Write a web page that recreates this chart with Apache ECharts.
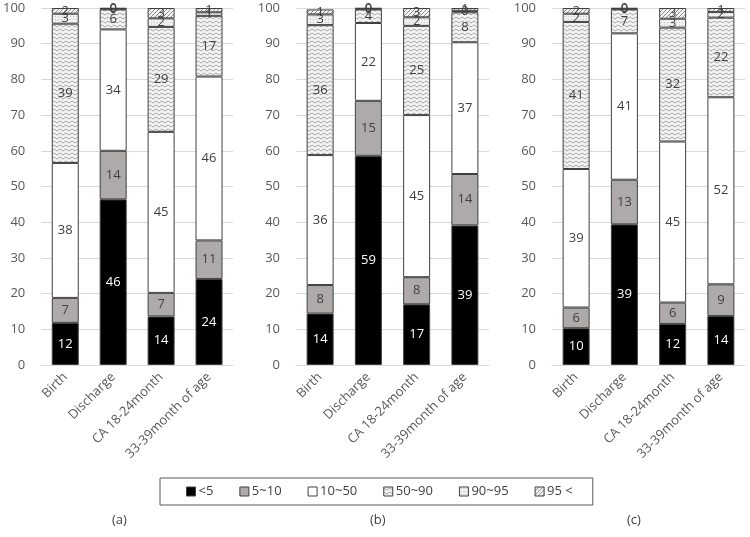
<!DOCTYPE html>
<html><head><meta charset="utf-8">
<script src="https://cdn.jsdelivr.net/npm/echarts@6/dist/echarts.min.js"></script>
<style>html,body{margin:0;padding:0;background:#fff}#c{width:750px;height:537px}</style>
</head><body><div id="c"></div>
<script>
const categories = ['Birth', 'Discharge', 'CA 18-24month', '33-39month of age'];
const classNames = ['<5', '5~10', '10~50', '50~90', '90~95', '95 <'];
const panelLabels = ['(a)', '(b)', '(c)'];
const yTicks = [0, 10, 20, 30, 40, 50, 60, 70, 80, 90, 100];

// panel (a)
const a_lt5   = [11.8, 46.4, 13.6, 24.1];
const a_5_10  = [7.0, 13.6, 6.6, 10.8];
const a_10_50 = [37.8, 34.0, 45.1, 45.9];
const a_50_90 = [39.0, 5.6, 29.4, 17.0];
const a_90_95 = [2.8, 0.2, 2.4, 1.0];
const a_95    = [1.6, 0.2, 2.9, 1.2];
// panel (b)
const b_lt5   = [14.4, 58.6, 17.0, 39.1];
const b_5_10  = [8.0, 15.4, 7.6, 14.4];
const b_10_50 = [36.4, 21.8, 45.4, 36.9];
const b_50_90 = [36.4, 3.8, 25.0, 8.4];
const b_90_95 = [3.0, 0.2, 2.4, 0.4];
const b_95    = [1.4, 0.2, 2.6, 0.8];
// panel (c)
const c_lt5   = [10.3, 39.4, 11.5, 13.7];
const c_5_10  = [5.8, 12.5, 6.0, 8.9];
const c_10_50 = [38.8, 41.0, 45.1, 52.4];
const c_50_90 = [41.2, 6.7, 31.9, 22.3];
const c_90_95 = [2.3, 0.2, 2.5, 1.6];
const c_95    = [1.6, 0.2, 3.0, 1.1];

const panels = [
  [a_lt5, a_5_10, a_10_50, a_50_90, a_90_95, a_95],
  [b_lt5, b_5_10, b_10_50, b_50_90, b_90_95, b_95],
  [c_lt5, c_5_10, c_10_50, c_50_90, c_90_95, c_95]
];

function pat(w, h, draw) {
  const cv = document.createElement('canvas');
  cv.width = w; cv.height = h;
  const ctx = cv.getContext('2d');
  draw(ctx);
  return { image: cv, repeat: 'repeat' };
}
const zigzag = pat(6, 4, ctx => {
  ctx.fillStyle = '#f4f4f4'; ctx.fillRect(0, 0, 6, 4);
  ctx.strokeStyle = '#a8a8a8'; ctx.lineWidth = 1;
  ctx.beginPath(); ctx.moveTo(0, 1); ctx.lineTo(3, 3); ctx.lineTo(6, 1); ctx.stroke();
});
const dots = pat(3, 3, ctx => {
  ctx.fillStyle = '#f0f0f0'; ctx.fillRect(0, 0, 3, 3);
  ctx.fillStyle = '#c8c8c8'; ctx.fillRect(1, 1, 1, 1);
});
const hatch = pat(4, 4, ctx => {
  ctx.fillStyle = '#f2f2f2'; ctx.fillRect(0, 0, 4, 4);
  ctx.strokeStyle = '#8c8c8c'; ctx.lineWidth = 1;
  ctx.beginPath(); ctx.moveTo(0, 4); ctx.lineTo(4, 0); ctx.stroke();
  ctx.beginPath(); ctx.moveTo(-1, 1); ctx.lineTo(1, -1); ctx.stroke();
  ctx.beginPath(); ctx.moveTo(3, 5); ctx.lineTo(5, 3); ctx.stroke();
});
const fills = ['#000000', '#aeaaaa', '#ffffff', zigzag, dots, hatch];
const labelColors = ['#ffffff', '#404040', '#404040', '#404040', '#404040', '#404040'];

const font = 'Open Sans';
const gridLefts = [40, 296, 552];
const grids = gridLefts.map(l => ({ left: l, width: 193, top: 8, height: 357 }));
const xAxes = grids.map((g, i) => ({
  type: 'category', gridIndex: i, data: categories,
  axisTick: { show: false },
  axisLine: { lineStyle: { color: '#d9d9d9' } },
  axisLabel: { rotate: 45, color: '#595959', fontSize: 13, fontFamily: font, margin: 10, interval: 0 }
}));
const yAxes = grids.map((g, i) => ({
  type: 'value', gridIndex: i, min: yTicks[0], max: yTicks[yTicks.length - 1], interval: 10,
  axisLine: { show: false }, axisTick: { show: false },
  splitLine: { lineStyle: { color: '#d9d9d9' } },
  axisLabel: { color: '#595959', fontSize: 13, fontFamily: font, margin: 16 }
}));

const series = [];
panels.forEach((arrs, p) => {
  arrs.forEach((vals, k) => {
    series.push({
      name: classNames[k], type: 'bar', stack: 'p' + p,
      xAxisIndex: p, yAxisIndex: p, barWidth: 27,
      data: vals,
      itemStyle: { color: fills[k], borderColor: '#404040', borderWidth: 1 },
      label: {
        show: true, position: 'inside', color: labelColors[k],
        fontSize: 13, fontFamily: font,
        formatter: q => Math.round(q.value)
      },
      emphasis: { disabled: true }
    });
  });
});

const chart = echarts.init(document.getElementById('c'), null, { renderer: 'canvas' });
chart.setOption({
  animation: false,
  backgroundColor: '#ffffff',
  grid: grids, xAxis: xAxes, yAxis: yAxes, series: series,
  legend: {
    data: classNames, left: 160, top: 478, width: 425,
    padding: [7, 20, 7, 26], itemGap: 26, itemWidth: 9, itemHeight: 9,
    borderColor: '#595959', borderWidth: 1,
    textStyle: { color: '#404040', fontSize: 13, fontFamily: font, padding: [0, 0, 0, -2] },
    icon: 'rect', selectedMode: false,
    itemStyle: { borderColor: '#404040', borderWidth: 1 }
  },
  graphic: panelLabels.map((t, i) => ({
    type: 'text', left: [112, 370, 627][i], top: 514,
    style: { text: t, fill: '#404040', fontSize: 13, fontFamily: font }
  }))
});
</script></body></html>
